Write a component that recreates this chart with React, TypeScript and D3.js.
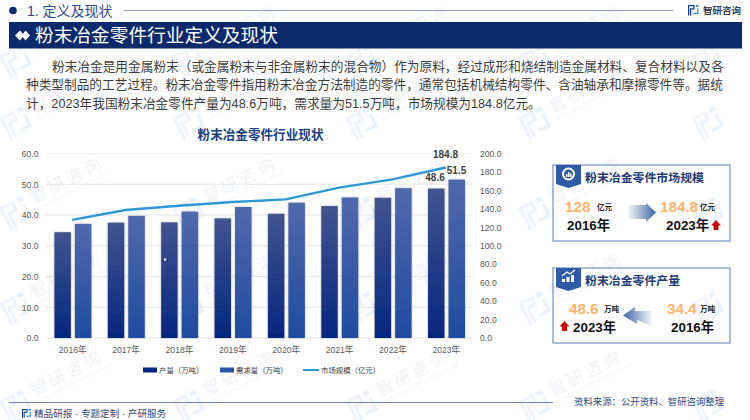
import React, { useEffect, useRef } from 'react'
import * as d3 from 'd3'

const years = ['2016年', '2017年', '2018年', '2019年', '2020年', '2021年', '2022年', '2023年']
const production = [34.4, 37.5, 37.6, 38.9, 40.4, 42.9, 45.6, 48.6]
const demand = [37.1, 39.7, 41.1, 42.6, 44.0, 45.7, 48.7, 51.5]
const market = [128, 138.8, 143.4, 147.4, 150.3, 163, 172, 184.8]
const leftTicks = [0, 10, 20, 30, 40, 50, 60]
const rightTicks = [0, 20, 40, 60, 80, 100, 120, 140, 160, 180, 200]
const paragraph = [
    '粉末冶金是用金属粉末（或金属粉末与非金属粉末的混合物）作为原料，经过成形和烧结制造金属材料、复合材料以及各',
    '种类型制品的工艺过程。粉末冶金零件指用粉末冶金方法制造的零件，通常包括机械结构零件、含油轴承和摩擦零件等。据统',
    '计，2023年我国粉末冶金零件产量为48.6万吨，需求量为51.5万吨，市场规模为184.8亿元。',
]
const watermarkCols = [17, 190, 363, 536, 709]
const watermarkRows = [58, 120, 210, 305, 403]

const FONT = '"Liberation Sans","Noto Sans CJK SC",sans-serif'
const NAVY = '#0c2a6b'

export default function App() {
    const ref = useRef<SVGSVGElement>(null)

    useEffect(() => {
        const svg = d3.select(ref.current)
        svg.selectAll('*').remove()
        svg.attr('font-family', FONT)

        const defs = svg.append('defs')
        const gradient = (id, stops, horizontal = false) => {
            const g = defs.append('linearGradient').attr('id', id)
                .attr('x1', 0).attr('y1', 0)
                .attr('x2', horizontal ? 1 : 0).attr('y2', horizontal ? 0 : 1)
            stops.forEach(s => g.append('stop').attr('offset', s[0]).attr('stop-color', s[1]).attr('stop-opacity', s[2] ?? 1))
        }
        gradient('prodFill', [[0, '#42548f'], [1, '#04277f']])
        gradient('demFill', [[0, '#5069ad'], [1, '#1f4c9f']])
        gradient('arrowR', [[0, '#3f62a4', 0.05], [1, '#3f62a4', 1]], true)
        gradient('arrowL', [[0, '#3f62a4', 1], [1, '#3f62a4', 0.05]], true)
        const shadow = defs.append('filter').attr('id', 'barShadow')
            .attr('x', '-20%').attr('y', '-5%').attr('width', '140%').attr('height', '110%')
        shadow.append('feDropShadow').attr('dx', 0).attr('dy', 0).attr('stdDeviation', 1)
            .attr('flood-color', '#777').attr('flood-opacity', 0.55)

        const logo = (parent, x, y, s, left, right) => {
            const g = parent.append('g').attr('transform', `translate(${x},${y}) scale(${s})`)
            g.append('path').attr('fill', left).attr('d', 'M0 0H10V7H5V16H3V5H8V2H2V16H0Z')
            g.append('path').attr('fill', right).attr('d', 'M12 0H16V3H12Z')
            g.append('path').attr('fill', right).attr('d', 'M16 5V14H8V12H14V5Z')
            return g
        }
        const label = (x, y, str, size, color, weight = 'normal', anchor = 'start') =>
            svg.append('text').attr('x', x).attr('y', y).attr('font-size', size)
                .attr('fill', color).attr('font-weight', weight).attr('text-anchor', anchor).text(str)

        // 水印
        const marks = svg.append('g').attr('class', 'watermark')
        watermarkRows.forEach(row => watermarkCols.forEach(col => {
            const m = marks.append('g').attr('transform', `translate(${col},${row}) rotate(-27)`)
            logo(m, -15, -10, 1.6, '#f0f4fa', '#eaf1f9')
            if (col < 700) {
                m.append('text').attr('x', 18).attr('y', 2).attr('font-size', 17)
                    .attr('letter-spacing', 3).attr('fill', '#f2f3f6').text('智研咨询')
                m.append('text').attr('x', 18).attr('y', 10).attr('font-size', 5)
                    .attr('fill', '#f3f4f7').text('INTELLIGENCE RESEARCH GROUP')
            }
        }))

        // 顶部标题
        svg.append('circle').attr('cx', 13).attr('cy', 10.5).attr('r', 3.8).attr('fill', NAVY)
        label(27, 16, '1. 定义及现状', 14, '#2b4a88')
        svg.append('line').attr('x1', 124).attr('x2', 673).attr('y1', 10.5).attr('y2', 10.5)
            .attr('stroke', '#8e9fc8').attr('stroke-width', 1)
        logo(svg, 688, 5, 0.65, '#1c3f92', '#2c8fd8')
        label(703, 14, '智研咨询', 9.5, '#3a3f4a', 'bold')

        svg.append('rect').attr('x', 9).attr('y', 22).attr('width', 733).attr('height', 26.5).attr('fill', NAVY)
        svg.append('path').attr('fill', '#fff').attr('d', 'M15 35.5L20 30.5L24 35.5L20 40.5Z')
        svg.append('path').attr('fill', '#fff').attr('d', 'M21.5 35.5L25.5 30.5L30 35.5L25.5 40.5Z')
        label(35, 42, '粉末冶金零件行业定义及现状', 18.7, '#fff')

        // 段落
        paragraph.forEach((line, i) => {
            label(i === 0 ? 52 : 26, 70.5 + i * 18.5, line, 12.68, '#3c3c3c')
        })

        // 主图
        const x = d3.scaleBand().domain(years).range([46, 473])
        const yLeft = d3.scaleLinear().domain([0, 60]).range([338, 153.5])
        const yRight = d3.scaleLinear().domain([0, 200]).range([338, 153.5])

        label(260.5, 139, '粉末冶金零件行业现状', 12.6, '#1a3f80', 'bold', 'middle')

        const grid = svg.append('g')
        grid.selectAll('line').data(leftTicks).enter().append('line')
            .attr('x1', 46).attr('x2', 472)
            .attr('y1', d => yLeft(d)).attr('y2', d => yLeft(d))
            .attr('stroke', d => d === 60 ? '#efefef' : '#e4e4e4').attr('stroke-width', 1.2)

        const styleAxis = g => {
            g.select('.domain').remove()
            g.selectAll('.tick line').remove()
            g.selectAll('text').attr('fill', '#595959').attr('font-size', 8.6).attr('font-family', FONT)
        }
        svg.append('g').attr('transform', 'translate(38.5,0)')
            .call(d3.axisLeft(yLeft).tickValues(leftTicks).tickFormat(d3.format('.1f')).tickSize(0).tickPadding(0))
            .call(styleAxis)
        svg.append('g').attr('transform', 'translate(480,0)')
            .call(d3.axisRight(yRight).tickValues(rightTicks).tickFormat(d3.format('.1f')).tickSize(0).tickPadding(0))
            .call(styleAxis)
        svg.append('g').attr('transform', 'translate(0,347)')
            .call(d3.axisBottom(x).tickSize(0).tickPadding(0))
            .call(styleAxis)

        const barW = 16.5
        const bars = (data, cls, fill, offset) => {
            svg.append('g').attr('class', cls).selectAll('rect').data(data).enter().append('rect')
                .attr('x', (d, i) => x(years[i]) + x.bandwidth() / 2 + offset)
                .attr('y', d => yLeft(d))
                .attr('width', barW)
                .attr('height', d => yLeft(0) - yLeft(d))
                .attr('fill', `url(#${fill})`)
                .attr('filter', 'url(#barShadow)')
        }
        bars(production, 'production', 'prodFill', -18.3)
        bars(demand, 'demand', 'demFill', 2.2)

        const line = d3.line<number>()
            .x((d, i) => x(years[i]) + x.bandwidth() / 2 - 0.5)
            .y(d => yRight(d))
        svg.append('path').datum(market).attr('d', line)
            .attr('fill', 'none').attr('stroke', '#2f97d6').attr('stroke-width', 2.4)

        label(445.5, 158, '184.8', 10, '#404040', 'bold', 'middle')
        label(456.5, 174, '51.5', 10, '#404040', 'bold', 'middle')
        label(435, 181, '48.6', 10, '#404040', 'bold', 'middle')
        svg.append('rect').attr('x', 164).attr('y', 258.5).attr('width', 2).attr('height', 2).attr('fill', '#fff')

        // 图例
        const legendY = 370
        svg.append('rect').attr('x', 143).attr('y', legendY - 2.5).attr('width', 14).attr('height', 5).attr('fill', '#04277f')
        label(159, legendY + 3, '产量（万吨）', 7.4, '#404040')
        svg.append('rect').attr('x', 220).attr('y', legendY - 2.5).attr('width', 14).attr('height', 5).attr('fill', '#2a55a5')
        label(236, legendY + 3, '需求量（万吨）', 7.4, '#404040')
        svg.append('line').attr('x1', 303).attr('x2', 319).attr('y1', legendY).attr('y2', legendY)
            .attr('stroke', '#2f97d6').attr('stroke-width', 2)
        label(321, legendY + 3, '市场规模（亿元）', 7.4, '#404040')

        // 右侧卡片
        const card = (top, h, title) => {
            svg.append('rect').attr('x', 553).attr('y', top).attr('width', 177).attr('height', h)
                .attr('fill', 'none').attr('stroke', '#5b7dbd').attr('stroke-width', 1)
            svg.append('path').attr('fill', '#2f5ba6')
                .attr('d', `M556 ${top}H581V${top + 19}L568.5 ${top + 23}L556 ${top + 19}Z`)
            label(585, top + 17, title, 11.9, '#1f3c74', 'bold')
        }
        const upArrow = (cx, top) => {
            svg.append('path').attr('fill', '#c00d12')
                .attr('d', `M${cx} ${top}L${cx + 5} ${top + 5.5}H${cx + 2.5}V${top + 10}H${cx - 2.5}V${top + 5.5}H${cx - 5}Z`)
        }

        card(165, 76, '粉末冶金零件市场规模')
        svg.append('circle').attr('cx', 568.5).attr('cy', 174).attr('r', 5.5)
            .attr('fill', 'none').attr('stroke', '#fff').attr('stroke-width', 2)
        svg.append('path').attr('fill', '#fff').attr('d', 'M566 177V174H567.5V177ZM568 177V172H569.5V177ZM570 177V173.5H571.5V177Z')
        label(565, 212, '128', 15.2, '#fbb46c', 'bold')
        label(597, 210, '亿元', 7.6, '#222', 'bold')
        label(567, 229.5, '2016年', 13.4, '#111', 'bold')
        svg.append('path').attr('fill', 'url(#arrowR)')
            .attr('d', 'M628 205H646V203L656 212.5L646 222V219H628Z')
        label(660, 212, '184.8', 15.2, '#fbb46c', 'bold')
        label(700, 210, '亿元', 7.6, '#222', 'bold')
        label(666, 230, '2023年', 13.4, '#111', 'bold')
        upArrow(716, 220)

        card(268, 75, '粉末冶金零件产量')
        const ico = svg.append('g').attr('fill', '#fff')
        ico.selectAll('rect').data([3, 5, 7]).enter().append('rect')
            .attr('x', (d, i) => 562 + i * 4.5).attr('y', d => 282 - d).attr('width', 3).attr('height', d => d)
        svg.append('path').attr('d', 'M562 276L567 272L570 274L575 270').attr('fill', 'none')
            .attr('stroke', '#fff').attr('stroke-width', 1.3)
        label(569, 314, '48.6', 15.2, '#fbb46c', 'bold')
        label(604, 312, '万吨', 7.6, '#222', 'bold')
        upArrow(564.5, 321)
        label(573, 331.5, '2023年', 13.4, '#111', 'bold')
        svg.append('path').attr('fill', 'url(#arrowL)')
            .attr('d', 'M623 315.5L635 307V311H652V326L637 320V324Z')
        label(667, 314, '34.4', 15.2, '#fbb46c', 'bold')
        label(700, 312, '万吨', 7.6, '#222', 'bold')
        label(671, 331.5, '2016年', 13.4, '#111', 'bold')

        // 底部
        svg.append('line').attr('x1', 9).attr('x2', 553).attr('y1', 402.5).attr('y2', 402.5)
            .attr('stroke', '#6c84b9').attr('stroke-width', 1)
        logo(svg, 22, 409, 0.55, '#1c3f92', '#2c8fd8')
        label(34, 417, '精品研报 · 专题定制 · 产研服务', 9.6, '#2c4a82')
        label(574, 405, '资料来源：公开资料、智研咨询整理', 9.4, '#2c4a82')
    }, [])

    return <svg ref={ref} width={750} height={420} style={{ position: 'absolute', left: 0, top: 0 }} />
}
